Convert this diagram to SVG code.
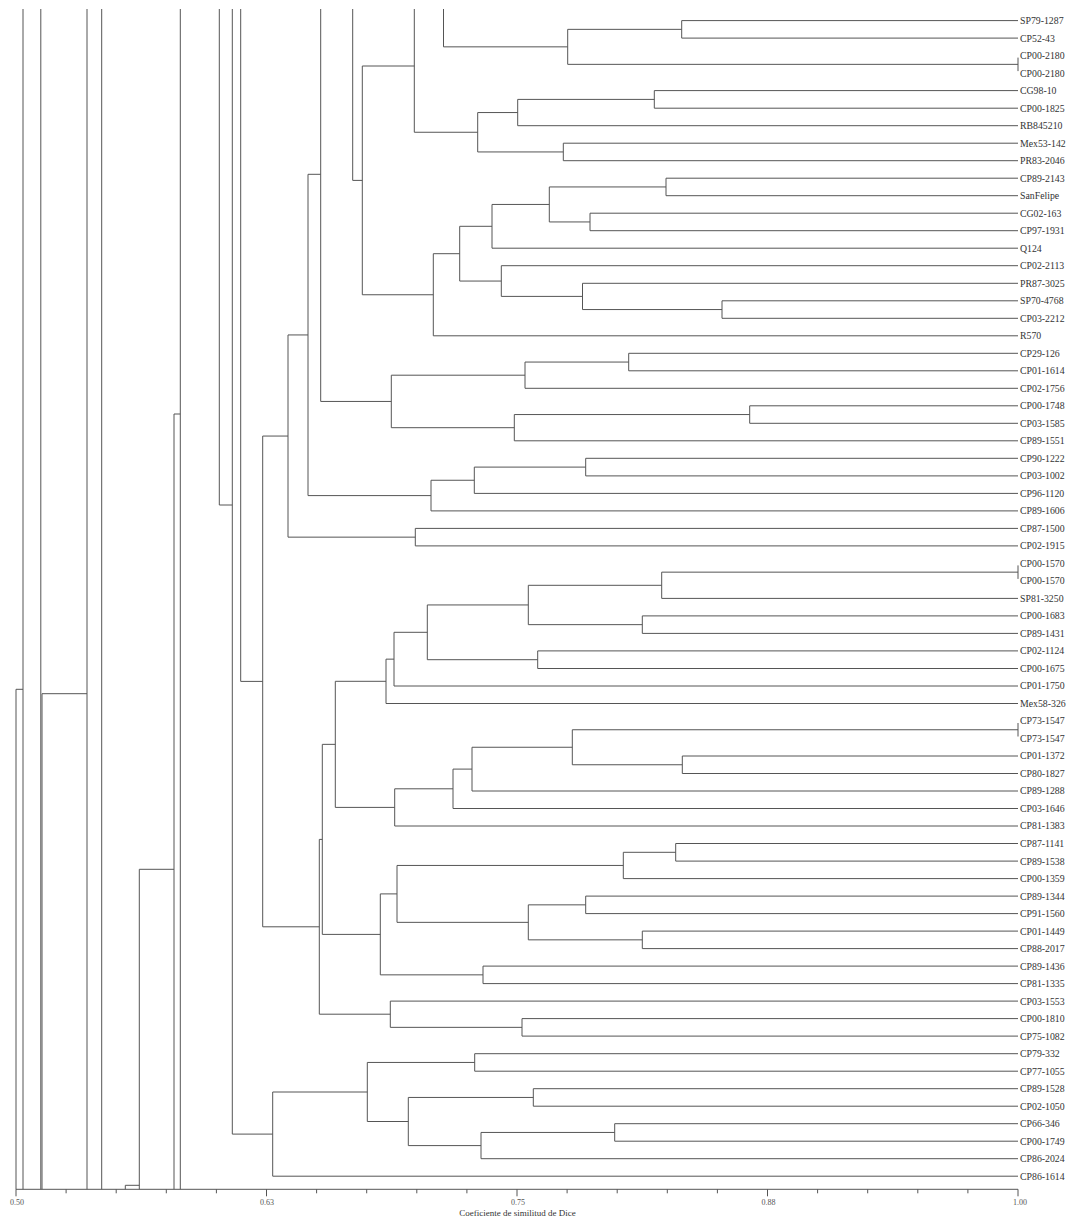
<svg xmlns="http://www.w3.org/2000/svg" width="1070" height="1219" viewBox="0 0 1070 1219">
<style>
.c{fill:none;stroke:#555;stroke-width:1}
.lb{font-family:"Liberation Serif","Times New Roman",serif;font-size:9.8px;fill:#333}
.ax{font-family:"Liberation Serif","Times New Roman",serif;font-size:8px;fill:#555;text-anchor:middle}
.tt{font-family:"Liberation Serif","Times New Roman",serif;font-size:9px;fill:#333;text-anchor:middle}
</style>
<rect width="1070" height="1219" fill="#fff"/>
<g id="connectors" class="c">
<!-- clipped ancestral verticals -->
<path d="M16,689.3V1189.3M23,9V1189.3M16,689.3H23"/>
<path d="M40.8,9V1189.3M42,693.7V1189.3M42,693.7H87M87,9V1189.3"/>
<path d="M101.7,9V1189.3"/>
<path d="M125.3,1185.3V1189.3M125.3,1185.3H139.3M139.3,869.3V1189.3M139.3,869.3H174M174,414V1189.3M174,414H180.3M180.3,9V1189.3"/>
<path d="M219.3,9V505M219.3,505H232.3M232.3,9V1134.1M232.3,1134.1H272.7"/>
<path d="M240.7,9V681.4M240.7,681.4H262.7M262.7,436.05V926.8"/>
<!-- top cluster -->
<path d="M320.7,9V401.45M308,174.3H320.7M352.7,9V180.4M352.7,180.4H362.3M362.3,66V294.75"/>
<path d="M414.3,9V132.25M362.3,66H414.3M443.5,9V46.85"/>
<path d="M443.5,46.85H567.7M567.7,29.35V64.35M567.7,29.35H681.7M681.7,20.6V38.1M681.7,20.6H1018M681.7,38.1H1018M567.7,64.35H1018M1018,57.6V71.1"/>
<path d="M414.3,132.25H477.7M477.7,112.55V151.95M477.7,112.55H517.7M517.7,99.4V125.7M517.7,99.4H654.3M654.3,90.6V108.2M654.3,90.6H1018M654.3,108.2H1018M517.7,125.7H1018M477.7,151.95H563.3M563.3,143.2V160.7M563.3,143.2H1018M563.3,160.7H1018"/>
<path d="M362.3,294.75H433.3M433.3,253.7V335.8M433.3,335.8H1018M433.3,253.7H459.7M459.7,226.3V281.05M459.7,226.3H492M492,204.45V248.2M492,248.2H1018M492,204.45H549.3M549.3,186.95V221.95M549.3,186.95H666M666,178.2V195.7M666,178.2H1018M666,195.7H1018M549.3,221.95H590M590,213.2V230.7M590,213.2H1018M590,230.7H1018"/>
<path d="M459.7,281.05H501.3M501.3,265.7V296.4M501.3,265.7H1018M501.3,296.4H582.5M582.5,283.3V309.55M582.5,283.3H1018M582.5,309.55H722M722,300.8V318.3M722,300.8H1018M722,318.3H1018"/>
<!-- second cluster -->
<path d="M320.7,401.45H391.3M391.3,375.2V427.7M391.3,375.2H525M525,362.05V388.3M525,388.3H1018M525,362.05H628.7M628.7,353.3V370.8M628.7,353.3H1018M628.7,370.8H1018M391.3,427.7H514.3M514.3,414.55V440.8M514.3,440.8H1018M514.3,414.55H749.7M749.7,405.8V423.3M749.7,405.8H1018M749.7,423.3H1018"/>
<path d="M262.7,436.05H288M288,334.95V537.15M288,334.95H308M308,174.3V495.6M308,495.6H431M431,480.25V510.9M431,510.9H1018M431,480.25H474.3M474.3,467.1V493.4M474.3,493.4H1018M474.3,467.1H585.7M585.7,458.3V475.9M585.7,458.3H1018M585.7,475.9H1018"/>
<path d="M288,537.15H415.3M415.3,528.4V545.9M415.3,528.4H1018M415.3,545.9H1018"/>
<!-- lower big cluster -->
<path d="M262.7,926.8H319.3M319.3,839.4V1014.2M319.3,839.4H322.3M322.3,744.35V934.4M322.3,744.35H335.3M335.3,681.3V807.4"/>
<path d="M335.3,681.3H386M386,659.15V703.5M386,703.5H1018M386,659.15H394M394,632.3V686M394,686H1018M394,632.3H427.3M427.3,604.95V659.7M427.3,604.95H528.3M528.3,585.3V624.65M528.3,585.3H661.7M661.7,572.15V598.4M661.7,598.4H1018M661.7,572.15H1018M1018,565.4V578.9M528.3,624.65H642.3M642.3,615.9V633.4M642.3,615.9H1018M642.3,633.4H1018M427.3,659.7H537.7M537.7,650.9V668.5M537.7,650.9H1018M537.7,668.5H1018"/>
<path d="M335.3,807.4H394.7M394.7,788.8V826M394.7,826H1018M394.7,788.8H453M453,769.1V808.5M453,808.5H1018M453,769.1H472M472,747.25V791M472,791H1018M472,747.25H572.3M572.3,729.75V764.75M572.3,729.75H1018M1018,723V736.5M572.3,764.75H682.3M682.3,756V773.5M682.3,756H1018M682.3,773.5H1018"/>
<path d="M322.3,934.4H380.3M380.3,893.9V974.85M380.3,893.9H397M397,865.45V922.35M397,865.45H623.3M623.3,852.3V878.6M623.3,878.6H1018M623.3,852.3H675.7M675.7,843.5V861.1M675.7,843.5H1018M675.7,861.1H1018M397,922.35H528.3M528.3,904.85V939.85M528.3,904.85H585.7M585.7,896.1V913.6M585.7,896.1H1018M585.7,913.6H1018M528.3,939.85H642.3M642.3,931.1V948.6M642.3,931.1H1018M642.3,948.6H1018M380.3,974.85H483M483,966.1V983.6M483,966.1H1018M483,983.6H1018"/>
<path d="M319.3,1014.2H390.3M390.3,1001.1V1027.35M390.3,1001.1H1018M390.3,1027.35H522M522,1018.6V1036.1M522,1018.6H1018M522,1036.1H1018"/>
<path d="M272.7,1092V1176.2M272.7,1176.2H1018M272.7,1092H367.3M367.3,1062.45V1121.5M367.3,1062.45H474.7M474.7,1053.7V1071.2M474.7,1053.7H1018M474.7,1071.2H1018M367.3,1121.5H408.3M408.3,1097.45V1145.6M408.3,1097.45H533.3M533.3,1088.7V1106.2M533.3,1088.7H1018M533.3,1106.2H1018M408.3,1145.6H481M481,1132.45V1158.7M481,1158.7H1018M481,1132.45H614.7M614.7,1123.7V1141.2M614.7,1123.7H1018M614.7,1141.2H1018"/>
</g>
<g id="axis">
<path class="c" d="M16,1189.3H1018M16,1189.3v7M66.1,1189.3v4M116.2,1189.3v4M166.3,1189.3v4M216.4,1189.3v4M266.5,1189.3v7M316.6,1189.3v4M366.7,1189.3v4M416.8,1189.3v4M466.9,1189.3v4M517,1189.3v7M567.1,1189.3v4M617.2,1189.3v4M667.3,1189.3v4M717.4,1189.3v4M767.5,1189.3v7M817.6,1189.3v4M867.7,1189.3v4M917.8,1189.3v4M967.9,1189.3v4M1018,1189.3v7"/>
<text class="ax" x="17" y="1204.5">0.50</text>
<text class="ax" x="267" y="1204.5">0.63</text>
<text class="ax" x="518" y="1204.5">0.75</text>
<text class="ax" x="768.5" y="1204.5">0.88</text>
<text class="ax" x="1020" y="1204.5">1.00</text>
<text class="tt" x="517.5" y="1216.3">Coeficiente de similitud de Dice</text>
</g>
<g id="leaves" class="lb">
<g id="leaf-01"><text x="1020" y="24">SP79-1287</text></g>
<g id="leaf-02"><text x="1020" y="41.5">CP52-43</text></g>
<g id="leaf-03"><text x="1020" y="59">CP00-2180</text></g>
<g id="leaf-04"><text x="1020" y="76.5">CP00-2180</text></g>
<g id="leaf-05"><text x="1020" y="94">CG98-10</text></g>
<g id="leaf-06"><text x="1020" y="111.6">CP00-1825</text></g>
<g id="leaf-07"><text x="1020" y="129.1">RB845210</text></g>
<g id="leaf-08"><text x="1020" y="146.6">Mex53-142</text></g>
<g id="leaf-09"><text x="1020" y="164.1">PR83-2046</text></g>
<g id="leaf-10"><text x="1020" y="181.6">CP89-2143</text></g>
<g id="leaf-11"><text x="1020" y="199.1">SanFelipe</text></g>
<g id="leaf-12"><text x="1020" y="216.6">CG02-163</text></g>
<g id="leaf-13"><text x="1020" y="234.1">CP97-1931</text></g>
<g id="leaf-14"><text x="1020" y="251.6">Q124</text></g>
<g id="leaf-15"><text x="1020" y="269.1">CP02-2113</text></g>
<g id="leaf-16"><text x="1020" y="286.7">PR87-3025</text></g>
<g id="leaf-17"><text x="1020" y="304.2">SP70-4768</text></g>
<g id="leaf-18"><text x="1020" y="321.7">CP03-2212</text></g>
<g id="leaf-19"><text x="1020" y="339.2">R570</text></g>
<g id="leaf-20"><text x="1020" y="356.7">CP29-126</text></g>
<g id="leaf-21"><text x="1020" y="374.2">CP01-1614</text></g>
<g id="leaf-22"><text x="1020" y="391.7">CP02-1756</text></g>
<g id="leaf-23"><text x="1020" y="409.2">CP00-1748</text></g>
<g id="leaf-24"><text x="1020" y="426.7">CP03-1585</text></g>
<g id="leaf-25"><text x="1020" y="444.2">CP89-1551</text></g>
<g id="leaf-26"><text x="1020" y="461.7">CP90-1222</text></g>
<g id="leaf-27"><text x="1020" y="479.3">CP03-1002</text></g>
<g id="leaf-28"><text x="1020" y="496.8">CP96-1120</text></g>
<g id="leaf-29"><text x="1020" y="514.3">CP89-1606</text></g>
<g id="leaf-30"><text x="1020" y="531.8">CP87-1500</text></g>
<g id="leaf-31"><text x="1020" y="549.3">CP02-1915</text></g>
<g id="leaf-32"><text x="1020" y="566.8">CP00-1570</text></g>
<g id="leaf-33"><text x="1020" y="584.3">CP00-1570</text></g>
<g id="leaf-34"><text x="1020" y="601.8">SP81-3250</text></g>
<g id="leaf-35"><text x="1020" y="619.3">CP00-1683</text></g>
<g id="leaf-36"><text x="1020" y="636.8">CP89-1431</text></g>
<g id="leaf-37"><text x="1020" y="654.3">CP02-1124</text></g>
<g id="leaf-38"><text x="1020" y="671.9">CP00-1675</text></g>
<g id="leaf-39"><text x="1020" y="689.4">CP01-1750</text></g>
<g id="leaf-40"><text x="1020" y="706.9">Mex58-326</text></g>
<g id="leaf-41"><text x="1020" y="724.4">CP73-1547</text></g>
<g id="leaf-42"><text x="1020" y="741.9">CP73-1547</text></g>
<g id="leaf-43"><text x="1020" y="759.4">CP01-1372</text></g>
<g id="leaf-44"><text x="1020" y="776.9">CP80-1827</text></g>
<g id="leaf-45"><text x="1020" y="794.4">CP89-1288</text></g>
<g id="leaf-46"><text x="1020" y="811.9">CP03-1646</text></g>
<g id="leaf-47"><text x="1020" y="829.4">CP81-1383</text></g>
<g id="leaf-48"><text x="1020" y="846.9">CP87-1141</text></g>
<g id="leaf-49"><text x="1020" y="864.5">CP89-1538</text></g>
<g id="leaf-50"><text x="1020" y="882">CP00-1359</text></g>
<g id="leaf-51"><text x="1020" y="899.5">CP89-1344</text></g>
<g id="leaf-52"><text x="1020" y="917">CP91-1560</text></g>
<g id="leaf-53"><text x="1020" y="934.5">CP01-1449</text></g>
<g id="leaf-54"><text x="1020" y="952">CP88-2017</text></g>
<g id="leaf-55"><text x="1020" y="969.5">CP89-1436</text></g>
<g id="leaf-56"><text x="1020" y="987">CP81-1335</text></g>
<g id="leaf-57"><text x="1020" y="1004.5">CP03-1553</text></g>
<g id="leaf-58"><text x="1020" y="1022">CP00-1810</text></g>
<g id="leaf-59"><text x="1020" y="1039.5">CP75-1082</text></g>
<g id="leaf-60"><text x="1020" y="1057.1">CP79-332</text></g>
<g id="leaf-61"><text x="1020" y="1074.6">CP77-1055</text></g>
<g id="leaf-62"><text x="1020" y="1092.1">CP89-1528</text></g>
<g id="leaf-63"><text x="1020" y="1109.6">CP02-1050</text></g>
<g id="leaf-64"><text x="1020" y="1127.1">CP66-346</text></g>
<g id="leaf-65"><text x="1020" y="1144.6">CP00-1749</text></g>
<g id="leaf-66"><text x="1020" y="1162.1">CP86-2024</text></g>
<g id="leaf-67"><text x="1020" y="1179.6">CP86-1614</text></g>
</g>
</svg>
